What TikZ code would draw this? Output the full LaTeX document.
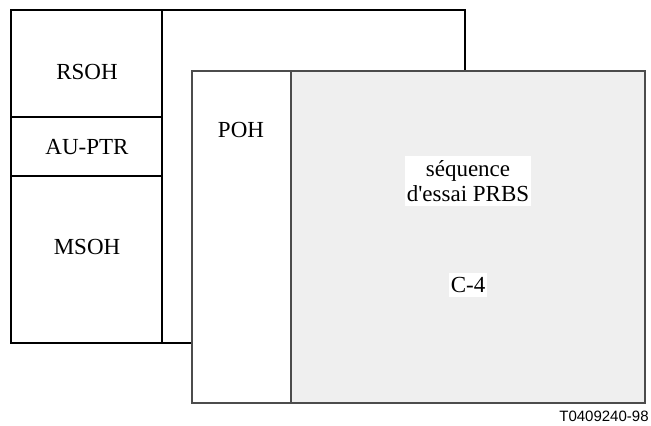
\documentclass[tikz,border=0pt]{standalone}
\usepackage{fontspec}
\setmainfont{Liberation Serif}[Ligatures=TeXOff]
\newfontfamily\tagfont{Liberation Sans}
\definecolor{prbsgray}{HTML}{EFEFEF}
\tikzstyle{backframe} = [draw=black, line width=0.7pt]
\tikzstyle{frontframe} = [draw=black!70, line width=1pt]
\tikzstyle{fieldtext} = [font=\fontsize{11.5}{12.5}\selectfont, align=center, inner sep=1pt]
\tikzstyle{boxedtext} = [fieldtext, fill=white, inner ysep=2pt]

\begin{document}
\begin{tikzpicture}[x=0.5pt, y=-0.5pt]
\useasboundingbox (0,0) rectangle (651,426);

% STM-1 frame (back)
\draw [backframe] (11,10) rectangle (465,343);
\draw [backframe] (162,10) -- (162,343);
\draw [backframe] (11,117) -- (162,117);
\draw [backframe] (11,176) -- (162,176);

% VC-4 frame (front)
\filldraw [frontframe, fill=white] (192,71) rectangle (291,403);
\filldraw [frontframe, fill=prbsgray] (291,71) rectangle (645,403);

\node (rsoh) [fieldtext] at (87,72) {RSOH};
\node (auptr) [fieldtext] at (87,147) {AU-PTR};
\node (msoh) [fieldtext] at (87,247) {MSOH};
\node (poh) [fieldtext] at (241,130) {POH};
\node (prbs) [boxedtext] at (468,181) {séquence\\d'essai PRBS};
\node (c4) [boxedtext] at (468,285) {C-4};
\node (tag) [font=\tagfont\fontsize{7.5}{9}\selectfont, anchor=south east, inner sep=0pt] at (649,422) {T0409240-98};

\end{tikzpicture}
\end{document}
